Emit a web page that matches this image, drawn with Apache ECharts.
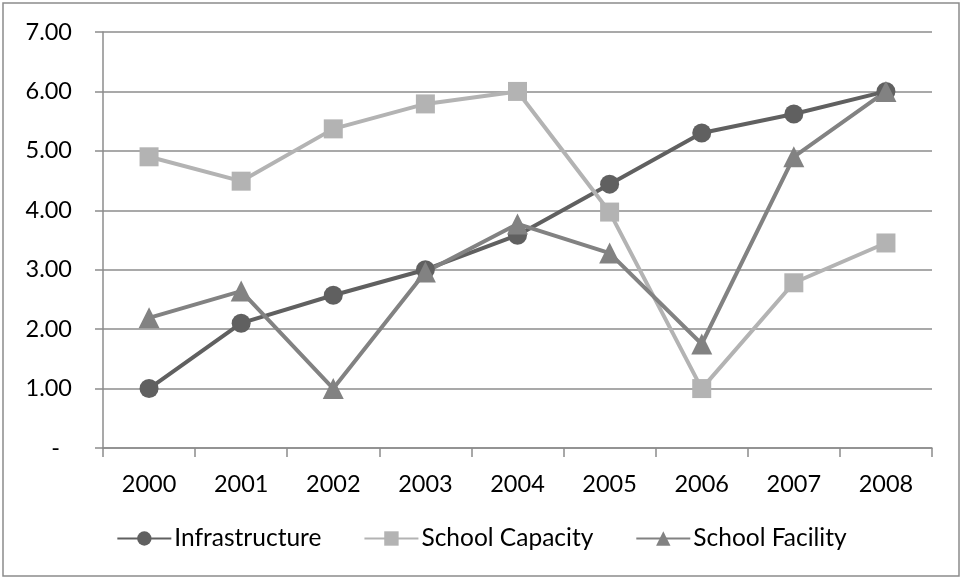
<!DOCTYPE html>
<html>
<head>
<meta charset="utf-8">
<script src="https://cdn.jsdelivr.net/npm/echarts@6/dist/echarts.min.js"></script>
<style>
  html, body { margin: 0; padding: 0; background: #fff; }
  #chart { width: 963px; height: 580px; }
</style>
</head>
<body>
<div id="chart"></div>
<script>
// categories and values
var years = ['2000', '2001', '2002', '2003', '2004', '2005', '2006', '2007', '2008'];
var infrastructure = [1.00, 2.10, 2.57, 3.00, 3.58, 4.44, 5.30, 5.62, 6.00];
var schoolCapacity = [4.90, 4.49, 5.37, 5.79, 6.00, 3.97, 1.00, 2.78, 3.45];
var schoolFacility = [2.19, 2.64, 1.00, 2.96, 3.77, 3.28, 1.75, 4.90, 6.00];

var font = 'Lato, "Open Sans", sans-serif';

function makeSeries(name, data, symbol, size, color) {
    return {
        name: name,
        type: 'line',
        data: data,
        symbol: symbol,
        symbolSize: size,
        lineStyle: { color: color, width: 4 },
        itemStyle: { color: color },
        emphasis: { disabled: true },
        z: 3
    };
}

var chart = echarts.init(document.getElementById('chart'));
var option = {
    animation: false,
    textStyle: { fontFamily: font },
    graphic: [{
        type: 'rect',
        shape: { x: 3, y: 3, width: 956, height: 573 },
        style: { fill: 'none', stroke: '#8c8c8c', lineWidth: 1.5 }
    }],
    legend: {
        top: 521,
        left: 'center',
        itemWidth: 54,
        itemHeight: 18,
        itemGap: 42,
        textStyle: { fontSize: 24.5, color: '#000', fontFamily: font, padding: [0, 0, 0, -2] },
        data: ['Infrastructure', 'School Capacity', 'School Facility']
    },
    grid: { left: 103, right: 31, top: 32, bottom: 132 },
    xAxis: {
        type: 'category',
        data: years,
        boundaryGap: true,
        axisLine: { lineStyle: { color: '#8c8c8c', width: 1.5 } },
        axisTick: { show: true, length: 9, lineStyle: { color: '#8c8c8c', width: 1.5 } },
        axisLabel: { fontSize: 23.5, color: '#000', margin: 24, fontFamily: font }
    },
    yAxis: {
        type: 'value',
        min: 0,
        max: 7,
        interval: 1,
        axisLine: { show: true, lineStyle: { color: '#8c8c8c', width: 1.5 } },
        axisTick: { show: true, length: 8, inside: false, lineStyle: { color: '#8c8c8c', width: 1.5 } },
        splitLine: { lineStyle: { color: '#8c8c8c', width: 1.5 } },
        axisLabel: {
            fontSize: 23.5,
            color: '#000',
            margin: 31,
            fontFamily: font,
            formatter: function (v) { return v === 0 ? '-  ' : v.toFixed(2); }
        }
    },
    series: [
        makeSeries('Infrastructure', infrastructure, 'circle', 19, '#606060'),
        makeSeries('School Capacity', schoolCapacity, 'rect', 19, '#b3b3b3'),
        makeSeries('School Facility', schoolFacility, 'triangle', 21, '#828282')
    ]
};
chart.setOption(option);
</script>
</body>
</html>
